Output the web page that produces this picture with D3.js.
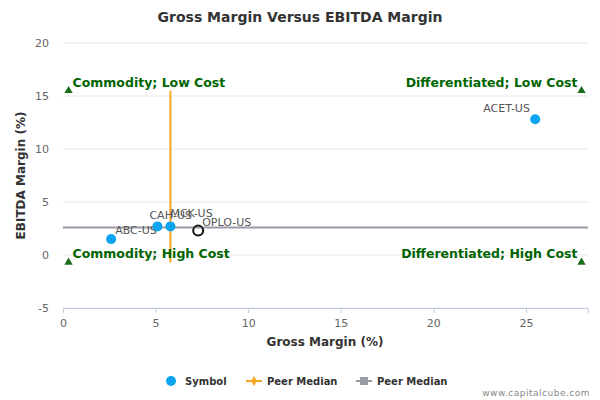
<!DOCTYPE html>
<html><head><meta charset="utf-8">
<script src="https://cdn.jsdelivr.net/npm/d3@7"></script>
<style>body{margin:0;font-family:"DejaVu Sans",sans-serif;} text{font-family:"DejaVu Sans",sans-serif;}</style>
</head><body><div id="chart"></div>
<script>
// data
const symbols = ["ABC-US", "CAH-US", "MCK-US", "ACET-US"];
const grossMargin = [2.6, 5.1, 5.8, 25.5];
const ebitdaMargin = [1.5, 2.7, 2.7, 12.8];
const labelDx = [4, -8, 0, -52];
const labelDy = [-5, -7, -9, -7];
const focus = { name: "OPLO-US", x: 7.3, y: 2.3 };
const medianGross = 5.8, medianEbitda = 2.6;
const xTicks = [0, 5, 10, 15, 20, 25];
const yTicks = [-5, 0, 5, 10, 15, 20];
const quadrants = [
  { name: "Commodity; Low Cost", x: 0.3, y: 15.5, anchor: "start" },
  { name: "Differentiated; Low Cost", x: 28, y: 15.5, anchor: "end" },
  { name: "Commodity; High Cost", x: 0.3, y: -0.7, anchor: "start" },
  { name: "Differentiated; High Cost", x: 28, y: -0.7, anchor: "end" }
];

const M = { left: 63, right: 12, top: 43, bottom: 92 };
const W = 600, H = 400;
const x = d3.scaleLinear().domain([0, 28.35]).range([M.left, W - M.right]);
const y = d3.scaleLinear().domain([-5, 20]).range([H - M.bottom, M.top]);

const svg = d3.select("#chart").append("svg").attr("width", W).attr("height", H);

svg.append("text").attr("x", 300).attr("y", 22).attr("text-anchor", "middle")
  .attr("font-size", 14).attr("font-weight", "bold").attr("fill", "#333")
  .text("Gross Margin Versus EBITDA Margin");

// grid
svg.append("g").selectAll("line").data(yTicks).join("line")
  .attr("x1", M.left).attr("x2", W - M.right)
  .attr("y1", d => y(d)).attr("y2", d => y(d))
  .attr("stroke", "#e6e6e6");

const gx = svg.append("g").attr("transform", `translate(0,${H - M.bottom})`)
  .call(d3.axisBottom(x).tickValues(xTicks).tickSize(5).tickPadding(6));
gx.select(".domain").attr("stroke", "#c0d0e0");
gx.selectAll(".tick line").attr("stroke", "#c0d0e0");
gx.selectAll("text").attr("fill", "#666").attr("font-size", 11);

const gy = svg.append("g").attr("transform", `translate(${M.left},0)`)
  .call(d3.axisLeft(y).tickValues(yTicks).tickFormat(d => String(d)).tickSize(0).tickPadding(14));
gy.select(".domain").remove();
gy.selectAll("text").attr("fill", "#666").attr("font-size", 11);

svg.append("text").attr("x", 325).attr("y", 346).attr("text-anchor", "middle")
  .attr("font-size", 12).attr("font-weight", "bold").attr("fill", "#333").text("Gross Margin (%)");
svg.append("text").attr("transform", `translate(25,${y(7.5)}) rotate(-90)`).attr("text-anchor", "middle")
  .attr("font-size", 12).attr("font-weight", "bold").attr("fill", "#333").text("EBITDA Margin (%)");

// medians
svg.append("line").attr("x1", x(0)).attr("x2", x(28.35))
  .attr("y1", y(medianEbitda)).attr("y2", y(medianEbitda))
  .attr("stroke", "#9a9ca8").attr("stroke-width", 2);
svg.append("line").attr("x1", x(medianGross)).attr("x2", x(medianGross))
  .attr("y1", y(15.5)).attr("y2", y(-0.7))
  .attr("stroke", "#f5a623").attr("stroke-width", 2);

// quadrants
const q = svg.append("g").selectAll("g").data(quadrants).join("g");
q.append("path").attr("d", d3.symbol(d3.symbolTriangle, 30))
  .attr("transform", d => `translate(${x(d.x)},${y(d.y)})`).attr("fill", "#1a6e1a");
q.append("text").attr("x", d => x(d.x) + (d.anchor === "start" ? 4 : -4)).attr("y", d => y(d.y) - 4)
  .attr("text-anchor", d => d.anchor).attr("font-size", 12.5).attr("font-weight", "bold")
  .attr("fill", "#006400").text(d => d.name);

// points
const pts = svg.append("g").selectAll("g").data(symbols).join("g");
pts.append("circle").attr("cx", (d, i) => x(grossMargin[i])).attr("cy", (d, i) => y(ebitdaMargin[i]))
  .attr("r", 5).attr("fill", "#0ea5f0");
pts.append("text").attr("x", (d, i) => x(grossMargin[i]) + labelDx[i])
  .attr("y", (d, i) => y(ebitdaMargin[i]) + labelDy[i])
  .attr("font-size", 11).attr("fill", "#555").text(d => d);

svg.append("circle").attr("cx", x(focus.x)).attr("cy", y(focus.y)).attr("r", 5)
  .attr("fill", "none").attr("stroke", "#111").attr("stroke-width", 2);
svg.append("text").attr("x", x(focus.x) + 4).attr("y", y(focus.y) - 5)
  .attr("font-size", 11).attr("fill", "#555").text(focus.name);

// legend
const lg = svg.append("g").attr("transform", "translate(0,381)");
lg.append("circle").attr("cx", 171).attr("cy", 0).attr("r", 5).attr("fill", "#0ea5f0");
lg.append("text").attr("x", 185).attr("y", 4).text("Symbol");
lg.append("line").attr("x1", 246).attr("x2", 262).attr("stroke", "#f5a623").attr("stroke-width", 2);
lg.append("path").attr("d", d3.symbol(d3.symbolDiamond, 30)).attr("transform", "translate(254,0)").attr("fill", "#f5a623");
lg.append("text").attr("x", 267).attr("y", 4).text("Peer Median");
lg.append("line").attr("x1", 356).attr("x2", 372).attr("stroke", "#9a9ca8").attr("stroke-width", 2);
lg.append("rect").attr("x", 360).attr("y", -4).attr("width", 8).attr("height", 8).attr("fill", "#9a9ca8");
lg.append("text").attr("x", 377).attr("y", 4).text("Peer Median");
lg.selectAll("text").attr("font-size", 10).attr("font-weight", "bold").attr("fill", "#333");

svg.append("text").attr("x", 590).attr("y", 396).attr("text-anchor", "end")
  .attr("font-size", 9).attr("fill", "#888").attr("letter-spacing", 0.5).text("www.capitalcube.com");
</script></body></html>
